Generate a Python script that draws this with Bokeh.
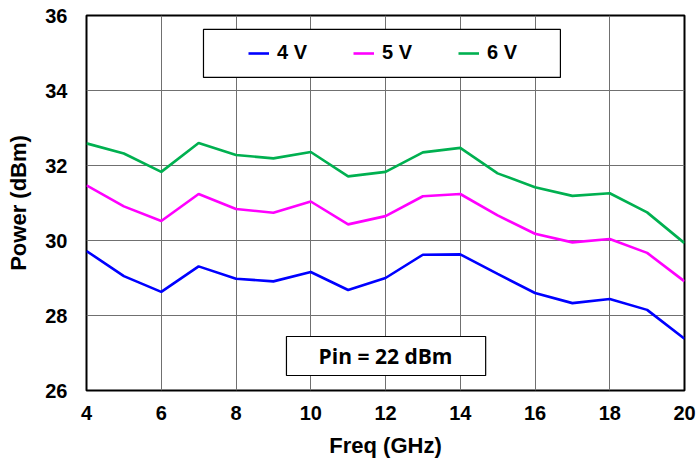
from bokeh.plotting import figure
from bokeh.models import Range1d, FixedTicker, Legend, LegendItem, BoxAnnotation, Label
from bokeh.embed import file_html
from bokeh.resources import INLINE

freq = [4, 5, 6, 7, 8, 9, 10, 11, 12, 13, 14, 15, 16, 17, 18, 19, 20]
p_4v = [29.72, 29.05, 28.63, 29.31, 28.98, 28.91, 29.16, 28.68, 29.00, 29.62, 29.63, 29.11, 28.60, 28.33, 28.44, 28.15, 27.38]
p_5v = [31.47, 30.91, 30.52, 31.24, 30.84, 30.74, 31.04, 30.43, 30.65, 31.18, 31.24, 30.67, 30.18, 29.95, 30.04, 29.67, 28.91]
p_6v = [32.59, 32.32, 31.83, 32.60, 32.28, 32.19, 32.36, 31.71, 31.83, 32.35, 32.47, 31.79, 31.42, 31.19, 31.26, 30.75, 29.93]
series_names = ["4 V", "5 V", "6 V"]
x_ticks = [4, 6, 8, 10, 12, 14, 16, 18, 20]
y_ticks = [26, 28, 30, 32, 34, 36]
note = "Pin = 22 dBm"

colors = ["#0000FF", "#FF00FF", "#00B050"]
FONT = "Liberation Sans"

p = figure(width=696, height=463, output_backend="svg", toolbar_location=None,
           x_range=Range1d(4, 20), y_range=Range1d(26, 36),
           min_border_left=86, min_border_right=12, min_border_top=15, min_border_bottom=73)
p.background_fill_color = "white"
p.border_fill_color = "white"
p.outline_line_color = "black"
p.outline_line_width = 2

for ax in (p.xaxis[0], p.yaxis[0]):
    ax.axis_line_color = None
    ax.major_tick_line_color = None
    ax.minor_tick_line_color = None
    ax.major_tick_out = 0
    ax.major_tick_in = 0
    ax.major_label_text_font = FONT
    ax.major_label_text_font_style = "bold"
    ax.major_label_text_font_size = "20px"
    ax.major_label_text_color = "black"
    ax.axis_label_text_font = FONT
    ax.axis_label_text_font_style = "bold"
    ax.axis_label_text_font_size = "22px"
    ax.axis_label_text_color = "black"

p.xaxis.ticker = FixedTicker(ticks=x_ticks)
p.yaxis.ticker = FixedTicker(ticks=y_ticks)
p.xaxis.axis_label = "Freq (GHz)"
p.yaxis.axis_label = "Power (dBm)"
p.xaxis.major_label_standoff = 15
p.yaxis.major_label_standoff = 19
p.xaxis.axis_label_standoff = 10
p.yaxis.axis_label_standoff = 11

p.xgrid.grid_line_color = "#707070"
p.ygrid.grid_line_color = "#707070"
p.xgrid.grid_line_width = 1
p.ygrid.grid_line_width = 1

renderers = []
for ys, c in zip([p_4v, p_5v, p_6v], colors):
    r = p.line(freq, ys, line_color=c, line_width=2.6)
    renderers.append(r)

# legend box
p.add_layout(BoxAnnotation(left=7.13, right=16.68, bottom=34.35, top=35.63,
                           fill_color="white", fill_alpha=1.0,
                           line_color="black", line_width=1.2, line_alpha=1.0))
# note box
p.add_layout(BoxAnnotation(left=9.35, right=14.68, bottom=26.40, top=27.44,
                           fill_color="white", fill_alpha=1.0,
                           line_color="black", line_width=1.2, line_alpha=1.0))

legend = Legend(items=[LegendItem(label=n, renderers=[r]) for n, r in zip(series_names, renderers)],
                orientation="horizontal", location=(162, 326),
                border_line_alpha=0, background_fill_alpha=0,
                padding=0, margin=0, spacing=46,
                glyph_width=21, glyph_height=20, label_standoff=8, label_width=30,
                label_text_font=FONT, label_text_font_style="bold",
                label_text_font_size="20px", label_text_color="black")
p.add_layout(legend, "center")

p.add_layout(Label(x=12, y=26.92, text=note, text_align="center", text_baseline="middle",
                   text_font="Open Sans", text_font_style="bold", text_font_size="21px",
                   text_color="black"))

open("out.html", "w").write(file_html(p, INLINE))
